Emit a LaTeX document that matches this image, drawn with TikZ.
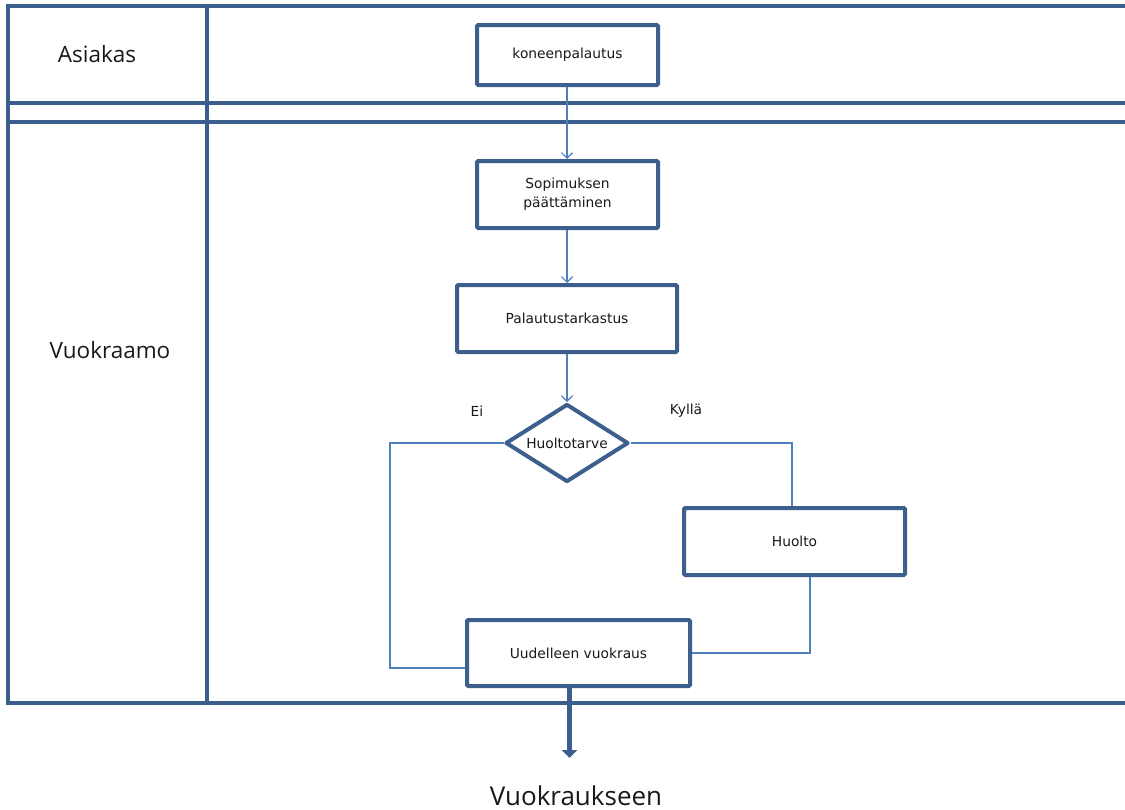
\documentclass[tikz,border=0pt]{standalone}
\usepackage{fontspec}
\newfontfamily\boxfont{DejaVu Sans}
\newfontfamily\lanefont{Open Sans}
\usetikzlibrary{arrows.meta,shapes.geometric}
\definecolor{laneblue}{HTML}{3B5E8C}
\definecolor{shapeblue}{HTML}{3C5F8D}
\definecolor{linkblue}{HTML}{4F7FBD}
\tikzset{
  laneline/.style={draw=laneblue, line width=4pt, line cap=rect},
  lanelabel/.style={font=\lanefont\fontsize{22.5}{26}\selectfont, text=black!90},
  stepbox/.style={draw=shapeblue, line width=4pt, fill=white, rounded corners=1.2pt,
    inner sep=0pt, align=center, font=\boxfont\fontsize{13.8}{19}\selectfont, text=black!90},
  decision/.style={draw=shapeblue, line width=4pt, fill=white, diamond, aspect=1.6,
    line join=round, inner sep=0pt, font=\boxfont\fontsize{13.8}{19}\selectfont, text=black!90},
  branchlabel/.style={font=\boxfont\fontsize{13.8}{19}\selectfont, text=black!90},
  link/.style={draw=linkblue, line width=1.3pt},
  flow/.style={link, -{Straight Barb[length=5.5pt,width=11pt,line width=1.2pt]}},
  exitflow/.style={draw=shapeblue, line width=5pt, -{Triangle[length=8pt,width=15pt]}}
}
\begin{document}
\begin{tikzpicture}[x=1pt, y=-1pt]
  \useasboundingbox (0,0) rectangle (1125,809);

  % swimlane grid
  \coordinate (gTL) at (8,6);
  \coordinate (gBL) at (8,703);
  \coordinate (dTop) at (207,6);
  \coordinate (dBot) at (207,703);
  \draw[laneline] (gTL) -- (gBL);
  \draw[laneline] (dTop) -- (dBot);
  \draw[laneline] (8,6) -- (1127,6);
  \draw[laneline] (8,103) -- (1127,103);
  \draw[laneline] (8,122) -- (1127,122);
  \draw[laneline] (8,703) -- (1127,703);

  % lane titles
  \node[lanelabel] (asiakas) at (97,54) {Asiakas};
  \node[lanelabel] (vuokraamo) at (110,350) {Vuokraamo};

  % process steps
  \node[stepbox, minimum width=181pt, minimum height=60pt] (kone) at (567.5,55) {koneenpalautus};
  \node[stepbox, minimum width=181pt, minimum height=67pt] (sop) at (567.5,194.5) {Sopimuksen\\päättäminen};
  \node[stepbox, minimum width=220pt, minimum height=67pt] (pal) at (567,318.5) {Palautustarkastus};
  \node[decision, minimum width=123pt, minimum height=78pt] (dia) at (567,443) {Huoltotarve};
  \node[stepbox, minimum width=221pt, minimum height=67pt] (huolto) at (794.5,541.5) {Huolto};
  \node[stepbox, minimum width=223pt, minimum height=66pt] (uud) at (578.5,653) {Uudelleen vuokraus};

  % branch labels
  \node[branchlabel] (ei) at (477,411) {Ei};
  \node[branchlabel] (kylla) at (686,411) {Kyllä};

  % main flow
  \draw[flow] (kone.south -| dia.north) -- (sop.north -| dia.north);
  \draw[flow] (sop.south -| dia.north) -- (pal.north -| dia.north);
  \draw[flow] (pal.south) -- (dia.north);

  % "Ei" branch
  \coordinate (eiTop) at (390,443);
  \coordinate (eiBot) at (390,668);
  \draw[link] (dia.west) -- (eiTop) -- (eiBot) -- (eiBot -| uud.west);

  % "Kyllä" branch
  \coordinate (kyTop) at (792,443);
  \draw[link] (dia.east) -- (kyTop) -- (kyTop |- huolto.north);

  % back from service
  \coordinate (hBot) at (810,653);
  \draw[link] (hBot |- huolto.south) -- (hBot) -- (uud.east);

  % exit
  \coordinate (exitTip) at (569.5,758);
  \draw[exitflow] (exitTip |- uud.south) -- (exitTip);
  \node[font=\lanefont\fontsize{26}{30}\selectfont, text=black!90, anchor=base, inner sep=1pt] (vuok) at (576,805) {Vuokraukseen};
\end{tikzpicture}
\end{document}
